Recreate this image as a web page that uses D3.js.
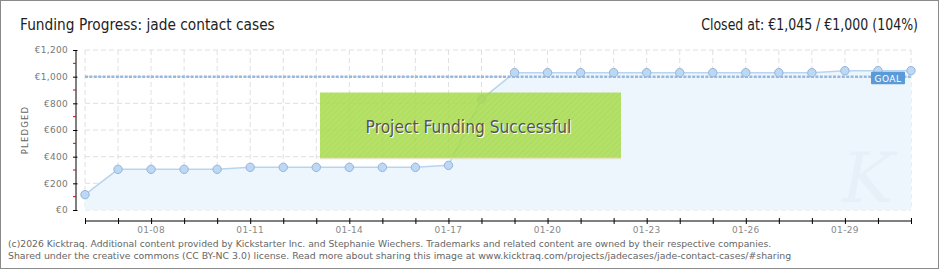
<!DOCTYPE html>
<html><head><meta charset="utf-8">
<script src="https://cdn.jsdelivr.net/npm/d3@7"></script>
<style>html,body{margin:0;padding:0;background:#fff;} svg{display:block;}</style>
</head><body>
<svg id="chart" width="940" height="270"></svg>
<script>
const title = "Funding Progress: jade contact cases";
const closedText = "Closed at:  €1,045 /  €1,000 (104%)";
const dates = ["2026-01-06","2026-01-07","2026-01-08","2026-01-09","2026-01-10","2026-01-11","2026-01-12","2026-01-13","2026-01-14","2026-01-15","2026-01-16","2026-01-17","2026-01-18","2026-01-19","2026-01-20","2026-01-21","2026-01-22","2026-01-23","2026-01-24","2026-01-25","2026-01-26","2026-01-27","2026-01-28","2026-01-29","2026-01-30","2026-01-31"];
const pledged = [115,305,305,305,305,320,320,320,320,320,320,335,830,1030,1030,1030,1030,1030,1030,1030,1030,1030,1030,1045,1045,1045];
const goal = 1000;
const yTicks = [0,200,400,600,800,1000,1200];
const yMinorTicks = [100,300,500,700,900,1100];
const xLabelDates = ["2026-01-08","2026-01-11","2026-01-14","2026-01-17","2026-01-20","2026-01-23","2026-01-26","2026-01-29"];
const footer1 = "(c)2026 Kicktraq. Additional content provided by Kickstarter Inc. and Stephanie Wiechers. Trademarks and related content are owned by their respective companies.";
const footer2 = "Shared under the creative commons (CC BY-NC 3.0) license. Read more about sharing this image at www.kicktraq.com/projects/jadecases/jade-contact-cases/#sharing";

const parse = d3.utcParse("%Y-%m-%d");
const data = dates.map((d,i)=>({date:parse(d), v:pledged[i]}));
const svg = d3.select("#chart");
const font = "'DejaVu Sans', sans-serif";

// place a text at (x,y) horizontally scaled so its width equals w
function fitText(parent, str, px, py, w, size, fill, anchor) {
  const g = parent.append("g");
  const t = g.append("text").attr("x",0).attr("y",0).attr("font-family",font).attr("font-size",size)
    .attr("fill",fill).attr("text-anchor",anchor||"start").text(str);
  const nat = t.node().getComputedTextLength();
  const s = w / nat;
  g.attr("transform","translate("+px+","+py+") scale("+s+",1)");
  return t;
}

const x = d3.scaleUtc().domain([parse(dates[0]), parse(dates[dates.length-1])]).range([85, 911]);
const y = d3.scaleLinear().domain([0,1200]).range([210, 50]);

// defs
const defs = svg.append("defs");
const pat = defs.append("pattern").attr("id","hatch").attr("patternUnits","userSpaceOnUse")
  .attr("width",4).attr("height",4).attr("patternTransform","rotate(45)");
pat.append("rect").attr("width",4).attr("height",4).attr("fill","#a9dc4e");
pat.append("line").attr("x1",0).attr("y1",0).attr("x2",0).attr("y2",4).attr("stroke","#a0d545").attr("stroke-width",1.5);

// border
svg.append("rect").attr("x",0.5).attr("y",0.5).attr("width",938).attr("height",268)
  .attr("fill","#fff").attr("stroke","#8a8a8a").attr("stroke-width",1);

// titles
fitText(svg, title, 20, 30, 255, 15, "#222", "start");
fitText(svg, closedText, 918, 30, 217, 15, "#222", "end");

// grid
const days = d3.utcDay.range(x.domain()[0], d3.utcDay.offset(x.domain()[1],1));
svg.append("g").selectAll("line").data(days).join("line")
  .attr("x1",d=>x(d)).attr("x2",d=>x(d)).attr("y1",y(1200)).attr("y2",y(0))
  .attr("stroke","#e0e0e0").attr("stroke-dasharray","5,3");
svg.append("g").selectAll("line").data(yTicks).join("line")
  .attr("x1",x.range()[0]).attr("x2",x.range()[1]).attr("y1",d=>y(d)).attr("y2",d=>y(d))
  .attr("stroke","#e0e0e0").attr("stroke-dasharray","5,3");

// area + line
const area = d3.area().x(d=>x(d.date)).y0(y(0)).y1(d=>y(d.v));
svg.append("path").datum(data).attr("d",area).attr("fill","#edf5fd").attr("fill-opacity",0.95);

// watermark
svg.append("text").attr("x",868).attr("y",202).attr("text-anchor","middle").attr("font-family","'DejaVu Serif', serif")
  .attr("font-style","italic").attr("font-size",70).attr("fill","#e3ecf6").attr("opacity",0.55).text("K");

const line = d3.line().x(d=>x(d.date)).y(d=>y(d.v));
svg.append("path").datum(data).attr("d",line).attr("fill","none").attr("stroke","#b7d4f1").attr("stroke-width",1.5);

// goal line
svg.append("line").attr("x1",x.range()[0]).attr("x2",x.range()[1]).attr("y1",y(goal)).attr("y2",y(goal))
  .attr("stroke","#97b8df").attr("stroke-width",2.5).attr("stroke-dasharray","3,1.4");

// points
svg.append("g").selectAll("circle").data(data).join("circle")
  .attr("cx",d=>x(d.date)).attr("cy",d=>y(d.v)).attr("r",4.2)
  .attr("fill","#bdd8f4").attr("stroke","#95b4d8").attr("stroke-width",1);

// goal label
const gx = x.range()[1]-40, gy = y(goal)-5;
svg.append("rect").attr("x",gx).attr("y",gy).attr("width",34).attr("height",12.5).attr("rx",1)
  .attr("fill","#5b9ad8");
svg.append("text").attr("x",gx+17).attr("y",gy+10).attr("text-anchor","middle").attr("font-family",font)
  .attr("font-size",9).attr("fill","#fff").attr("letter-spacing",0.5).text("GOAL");

// success box
svg.append("rect").attr("x",320).attr("y",92.5).attr("width",301).attr("height",66)
  .attr("fill","url(#hatch)").attr("opacity",0.86);
svg.append("line").attr("x1",320).attr("x2",621).attr("y1",158.5).attr("y2",158.5).attr("stroke","#e6e2c8").attr("stroke-width",1.5);
fitText(svg, "Project Funding Successful", 469.5, 133.5, 206, 18, "#fff", "middle");
fitText(svg, "Project Funding Successful", 468.5, 132.5, 206, 18, "#555", "middle");

// y axis
const yAxis = svg.append("g").attr("transform","translate(76,0)");
yAxis.call(d3.axisLeft(y).tickValues(yTicks).tickSize(3).tickPadding(5)
  .tickFormat(d=>"€"+d3.format(",")(d)));
yAxis.select(".domain").attr("stroke","#000").attr("d","M0,"+y(1200)+"V"+y(0));
yAxis.selectAll(".tick line").attr("stroke","#000").attr("x1",1.5);
yAxis.selectAll(".tick text").attr("font-family",font).attr("font-size",9).attr("fill","#777").attr("letter-spacing",0.3);
yAxis.append("g").selectAll("line").data(yMinorTicks).join("line")
  .attr("x1",-3).attr("x2",0).attr("y1",d=>y(d)).attr("y2",d=>y(d)).attr("stroke","#e00000");

svg.append("text").attr("transform","translate(28,130) rotate(-90)").attr("text-anchor","middle")
  .attr("font-family",font).attr("font-size",8.5).attr("fill","#666").attr("letter-spacing",1.2).text("PLEDGED");

// x axis
const xAxis = svg.append("g").attr("transform","translate(0,221)");
xAxis.call(d3.axisBottom(x).tickValues(days).tickSize(0).tickFormat(""));
xAxis.select(".domain").attr("stroke","#000").attr("d","M"+x.range()[0]+",0H"+x.range()[1]);
xAxis.selectAll(".tick line").attr("stroke","#000").attr("y1",-3).attr("y2",3);
xAxis.append("g").selectAll("text").data(xLabelDates.map(parse)).join("text")
  .attr("x",d=>x(d)).attr("y",11.5).attr("text-anchor","middle").attr("font-family",font)
  .attr("font-size",9).attr("fill","#888").attr("letter-spacing",0.3).text(d3.utcFormat("%m-%d"));

// footer
fitText(svg, footer1, 8, 247, 764, 9.5, "#666", "start");
fitText(svg, footer2, 8, 259, 784, 9.5, "#666", "start");
</script>
</body></html>
